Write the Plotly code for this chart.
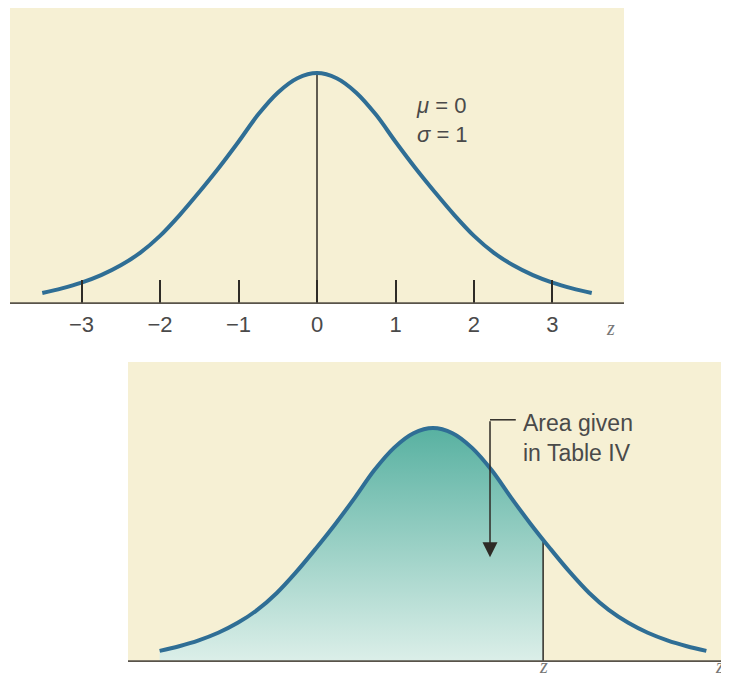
import plotly.graph_objects as go

# ---- data ----
z_vals = [-3.5, -3.25, -3.0, -2.75, -2.5, -2.25, -2.0, -1.75, -1.5, -1.25, -1.0, -0.75,
          -0.5, -0.25, 0.0, 0.25, 0.5, 0.75, 1.0, 1.25, 1.5, 1.75, 2.0, 2.25, 2.5,
          2.75, 3.0, 3.25, 3.5]
density = [0.019, 0.027, 0.037, 0.050, 0.067, 0.089, 0.118, 0.154, 0.194, 0.236, 0.281, 0.328,
           0.366, 0.391, 0.400, 0.391, 0.366, 0.328, 0.281, 0.236, 0.194, 0.154, 0.118, 0.089,
           0.067, 0.050, 0.037, 0.027, 0.019]
tick_vals = [-3, -2, -1, 0, 1, 2, 3]
tick_text = ["\u22123", "\u22122", "\u22121", "0", "1", "2", "3"]
mu, sigma = 0, 1
z_mark = 1.41
z_mark_density = 0.205

# page body has an 8px default margin: size the figure to fit the window
OFF = 8
W, H = 729 - OFF, 691 - OFF


def PX(px):
    return (px - OFF) / W


def PY(py):
    return (H - (py - OFF)) / H


BEIGE = "#f6f0d4"
CURVE = "#2f6e95"
DARK = "#2e2b26"
AXIS = "#58534a"
TXT = "#4a4a4a"
FONT = "Liberation Sans, Arial, sans-serif"
ZFONT = dict(family="Liberation Serif, serif", size=20, color="#777777")

fig = go.Figure()

# ---------- top panel ----------
fig.add_trace(go.Scatter(x=[mu, mu], y=[0, max(density)], mode="lines",
                         line=dict(color=DARK, width=1.5), xaxis="x", yaxis="y",
                         showlegend=False, hoverinfo="skip"))
fig.add_trace(go.Scatter(x=z_vals, y=density, mode="lines", line_shape="spline",
                         line=dict(color=CURVE, width=4), xaxis="x", yaxis="y",
                         showlegend=False))

# ---------- bottom panel ----------
fill_x = [z for z in z_vals if z <= z_mark] + [z_mark]
fill_y = [d for z, d in zip(z_vals, density) if z <= z_mark] + [z_mark_density]
fig.add_trace(go.Scatter(x=fill_x, y=fill_y, mode="lines", line_shape="spline",
                         line=dict(width=0), fill="tozeroy",
                         fillgradient=dict(type="vertical",
                                           colorscale=[[0, "#dcefe9"], [1, "#58b1a1"]]),
                         xaxis="x2", yaxis="y2", showlegend=False, hoverinfo="skip"))
fig.add_trace(go.Scatter(x=[z_mark, z_mark], y=[0, z_mark_density], mode="lines",
                         line=dict(color=DARK, width=1.5), xaxis="x2", yaxis="y2",
                         showlegend=False, hoverinfo="skip"))
fig.add_trace(go.Scatter(x=z_vals, y=density, mode="lines", line_shape="spline",
                         line=dict(color=CURVE, width=4), xaxis="x2", yaxis="y2",
                         showlegend=False))

shapes = [
    dict(type="line", xref="x domain", yref="y", x0=0, x1=1, y0=0, y1=0,
         line=dict(color=AXIS, width=3.5), layer="above"),
    dict(type="line", xref="x2 domain", yref="y2", x0=0, x1=1, y0=0, y1=0,
         line=dict(color=AXIS, width=3.5), layer="above"),
    dict(type="line", xref="x2", yref="y2", x0=0.73, x1=1.06, y0=0.414, y1=0.414,
         line=dict(color=DARK, width=1.5)),
]

annotations = [
    dict(text="<i>\u03bc</i> = " + str(mu) + "<br><i>\u03c3</i> = " + str(sigma),
         xref="paper", yref="paper", x=PX(414), y=PY(120), xanchor="left",
         yanchor="middle", align="left", showarrow=False,
         font=dict(family=FONT, size=22, color=TXT)),
    dict(text="<i>z</i>", xref="paper", yref="paper", x=PX(617), y=PY(328),
         showarrow=False, font=ZFONT),
    dict(text="<i>z</i>", xref="x2", yref="paper", x=z_mark, y=PY(679),
         showarrow=False, font=ZFONT),
    dict(text="<i>z</i>", xref="paper", yref="paper", x=PX(726), y=PY(679),
         showarrow=False, font=ZFONT),
    dict(text="Area given<br>in Table IV", xref="paper", yref="paper", x=PX(521),
         y=PY(438), xanchor="left", yanchor="middle", align="left", showarrow=False,
         font=dict(family=FONT, size=23, color=TXT)),
    dict(text="", xref="x2", yref="y2", x=0.73, y=0.179, ax=0.73, ay=0.414,
         axref="x2", ayref="y2", showarrow=True, arrowhead=2, arrowsize=2.0,
         arrowwidth=1.5, arrowcolor=DARK),
]

fig.update_layout(
    width=W, height=H, margin=dict(l=0, r=0, t=0, b=0),
    paper_bgcolor="white", plot_bgcolor=BEIGE,
    shapes=shapes, annotations=annotations, showlegend=False,
    xaxis=dict(domain=[PX(10), PX(624)], range=[-3.911, 3.911], showgrid=False,
               zeroline=False, showline=False, ticks="inside", ticklen=24,
               tickwidth=1.5, tickcolor=DARK, tickvals=tick_vals, ticktext=tick_text,
               ticklabelstandoff=5,
               tickfont=dict(family=FONT, size=22, color=TXT), anchor="y",
               fixedrange=True),
    yaxis=dict(domain=[PY(304), PY(8)], range=[0, 0.5126], visible=False,
               anchor="x", fixedrange=True),
    xaxis2=dict(domain=[PX(128), 1], range=[-3.905, 3.79], showgrid=False,
                zeroline=False, showline=False, showticklabels=False, ticks="",
                anchor="y2", fixedrange=True),
    yaxis2=dict(domain=[PY(662), PY(362)], range=[0, 0.5128], visible=False,
                anchor="x2", fixedrange=True),
)

fig.write_html("out.html")
